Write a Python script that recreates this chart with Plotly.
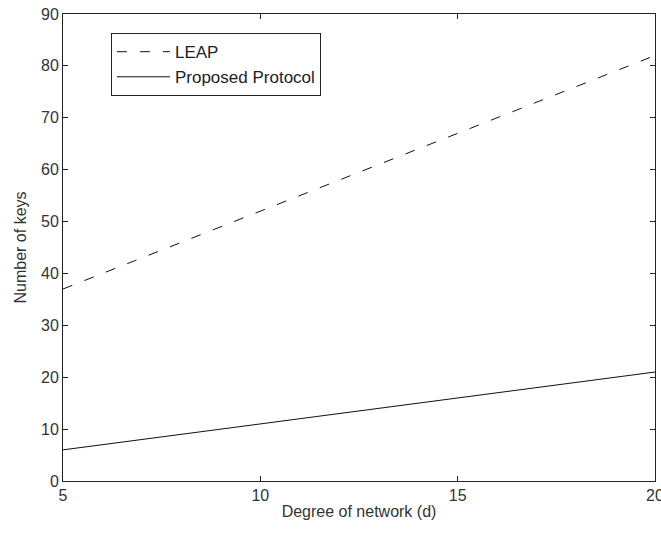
import plotly.graph_objects as go

# Node degree and the number of keys each scheme has to store
degree = [5, 6, 7, 8, 9, 10, 11, 12, 13, 14, 15, 16, 17, 18, 19, 20]
leap_keys = [37, 40, 43, 46, 49, 52, 55, 58, 61, 64, 67, 70, 73, 76, 79, 82]
proposed_keys = [6, 7, 8, 9, 10, 11, 12, 13, 14, 15, 16, 17, 18, 19, 20, 21]

x_ticks = [5, 10, 15, 20]
y_ticks = [0, 10, 20, 30, 40, 50, 60, 70, 80, 90]

FONT = "Liberation Sans, Arial, sans-serif"
TEXT = "#333333"

fig = go.Figure()
fig.add_trace(go.Scatter(
    x=degree, y=leap_keys, mode="lines", name="LEAP",
    line=dict(color="#111111", width=1, dash="10px,13px"),
))
fig.add_trace(go.Scatter(
    x=degree, y=proposed_keys, mode="lines", name="Proposed Protocol",
    line=dict(color="#111111", width=1),
))

axis_common = dict(
    showline=True, linecolor="#222222", linewidth=1, mirror="ticks",
    ticks="inside", ticklen=5, tickcolor="#222222", tickwidth=1,
    showgrid=False, zeroline=False, automargin=False,
    tickfont=dict(family=FONT, size=16, color=TEXT),
)

fig.update_layout(
    width=661, height=533,
    margin=dict(l=63, r=6, t=14, b=52),
    paper_bgcolor="white", plot_bgcolor="white",
    font=dict(family=FONT, color=TEXT),
    xaxis=dict(
        range=[5, 20], tickvals=x_ticks, ticktext=[str(v) for v in x_ticks],
        ticklabeloverflow="allow",
        title=dict(text="Degree of network (d)", font=dict(family=FONT, size=16, color=TEXT), standoff=2),
        **axis_common,
    ),
    yaxis=dict(
        range=[0, 90], tickvals=y_ticks, ticktext=[str(v) for v in y_ticks],
        title=dict(text="Number of keys", font=dict(family=FONT, size=16, color=TEXT), standoff=10),
        **axis_common,
    ),
    legend=dict(
        x=0.081, y=0.959, xanchor="left", yanchor="top",
        bgcolor="white", bordercolor="#222222", borderwidth=1,
        font=dict(family=FONT, size=17, color="#222222"),
        itemwidth=53, tracegroupgap=0,
        entrywidth=212, entrywidthmode="pixels",
    ),
    showlegend=True,
)

fig.write_html("out.html")
